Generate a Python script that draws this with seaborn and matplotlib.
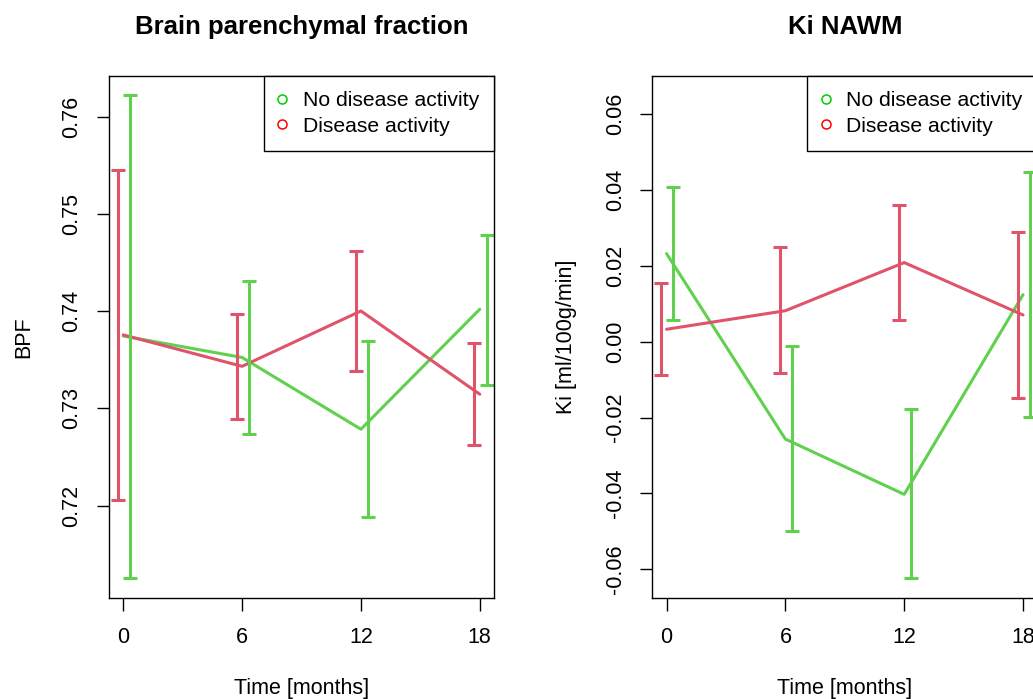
import matplotlib
matplotlib.use("Agg")
import numpy as np
import pandas as pd
import matplotlib.pyplot as plt
import seaborn as sns
from matplotlib.lines import Line2D
from matplotlib.ticker import FormatStrFormatter

# ---- data -------------------------------------------------------------
months = [0, 6, 12, 18]
groups = ["No disease activity", "Disease activity"]

# Brain parenchymal fraction: group means with lower / upper interval limits
bpf_mean_nda = [0.73745, 0.73524, 0.72786, 0.74020]
bpf_low_nda = [0.71254, 0.72735, 0.71879, 0.73245]
bpf_high_nda = [0.76220, 0.74314, 0.73690, 0.74784]
bpf_mean_da = [0.73756, 0.73433, 0.74002, 0.73146]
bpf_low_da = [0.72062, 0.72893, 0.73385, 0.72624]
bpf_high_da = [0.75453, 0.73969, 0.74623, 0.73671]

# Ki in normal-appearing white matter
ki_mean_nda = [0.02324, -0.02568, -0.04026, 0.01242]
ki_low_nda = [0.00564, -0.04986, -0.06237, -0.01976]
ki_high_nda = [0.04073, -0.00122, -0.01787, 0.04468]
ki_mean_da = [0.00329, 0.00818, 0.02088, 0.00706]
ki_low_da = [-0.00875, -0.00828, 0.00564, -0.01477]
ki_high_da = [0.01543, 0.02502, 0.03612, 0.02907]


def long_table(mean_a, low_a, high_a, mean_b, low_b, high_b):
    rows = []
    for g, (m, lo, hi) in zip(groups, [(mean_a, low_a, high_a), (mean_b, low_b, high_b)]):
        for t, mv, lv, hv in zip(months, m, lo, hi):
            rows.append({"month": t, "group": g, "mean": mv, "low": lv, "high": hv})
    return pd.DataFrame(rows)


bpf = long_table(bpf_mean_nda, bpf_low_nda, bpf_high_nda,
                 bpf_mean_da, bpf_low_da, bpf_high_da)
ki = long_table(ki_mean_nda, ki_low_nda, ki_high_nda,
                ki_mean_da, ki_low_da, ki_high_da)

# ---- style ------------------------------------------------------------
sns.set_style("white")
plt.rcParams["font.family"] = ["Liberation Sans", "DejaVu Sans"]
plt.rcParams["axes.unicode_minus"] = False
for key in ["text.color", "axes.labelcolor", "xtick.color", "ytick.color"]:
    plt.rcParams[key] = "black"

line_colors = {"No disease activity": "#61D04F", "Disease activity": "#DF536B"}
key_colors = {"No disease activity": "#00CD00", "Disease activity": "#FF0000"}
bar_shift = {"No disease activity": 0.35, "Disease activity": -0.27}

BASE = 15.5
W, H = 1033, 699
fig = plt.figure(figsize=(W / 100, H / 100), dpi=100)
ax_l = fig.add_axes([109 / W, (H - 597.5) / H, 385 / W, 521.5 / H])
ax_r = fig.add_axes([652.3 / W, (H - 597.5) / H, 385 / W, 521.5 / H])


def panel(ax, df, title, ylabel, yticks, ytop=None):
    sns.lineplot(data=df, x="month", y="mean", hue="group", palette=line_colors,
                 estimator=None, sort=False, linewidth=2.2, legend=False, ax=ax)
    for g in groups:
        d = df[df["group"] == g]
        x = d["month"].to_numpy() + bar_shift[g]
        m = d["mean"].to_numpy()
        ax.errorbar(x, m, yerr=[m - d["low"].to_numpy(), d["high"].to_numpy() - m],
                    fmt="none", ecolor=line_colors[g], elinewidth=2.2,
                    capsize=4.8, capthick=2.2)

    lo = df["low"].min()
    hi = df["high"].max() if ytop is None else ytop
    pad = 0.04 * (hi - lo)
    ax.set_ylim(lo - pad, hi + pad)
    ax.set_xlim(-0.72, 18.72)
    ax.set_xticks(months)
    ax.set_xticklabels([str(m) for m in months])
    ax.set_yticks(yticks)
    ax.yaxis.set_major_formatter(FormatStrFormatter("%.2f"))

    ax.tick_params(axis="both", which="major", direction="out", length=9,
                   width=1.0, color="black", labelcolor="black",
                   labelsize=BASE, bottom=True, left=True, top=False, right=False)
    ax.tick_params(axis="x", pad=12)
    ax.tick_params(axis="y", pad=10, labelrotation=90)
    for lab in ax.get_yticklabels():
        lab.set_va("center")

    for sp in ax.spines.values():
        sp.set_visible(True)
        sp.set_color("black")
        sp.set_linewidth(1.0)

    ax.set_title(title, fontsize=18.5, fontweight="bold", pad=30.5, color="black")
    ax.set_xlabel("Time [months]", fontsize=BASE, labelpad=21.5)
    ax.set_ylabel(ylabel, fontsize=BASE, labelpad=20)

    handles = [Line2D([], [], ls="none", marker="o", markersize=6.5,
                      markerfacecolor="none", markeredgecolor=key_colors[g],
                      markeredgewidth=1.1) for g in groups]
    leg = ax.legend(handles, groups, loc="upper right", borderaxespad=0,
                    frameon=True, fancybox=False, framealpha=1,
                    edgecolor="black", fontsize=15.2, handlelength=0.3,
                    handletextpad=0.8, borderpad=0.72, labelspacing=0.31)
    leg.get_frame().set_linewidth(1.0)
    for t in leg.get_texts():
        t.set_color("black")


panel(ax_l, bpf, "Brain parenchymal fraction", "BPF",
      [0.72, 0.73, 0.74, 0.75, 0.76])
panel(ax_r, ki, "Ki NAWM", "Ki [ml/100g/min]",
      [-0.06, -0.04, -0.02, 0.00, 0.02, 0.04, 0.06], ytop=0.065)

fig.savefig("out.png", dpi=100)
